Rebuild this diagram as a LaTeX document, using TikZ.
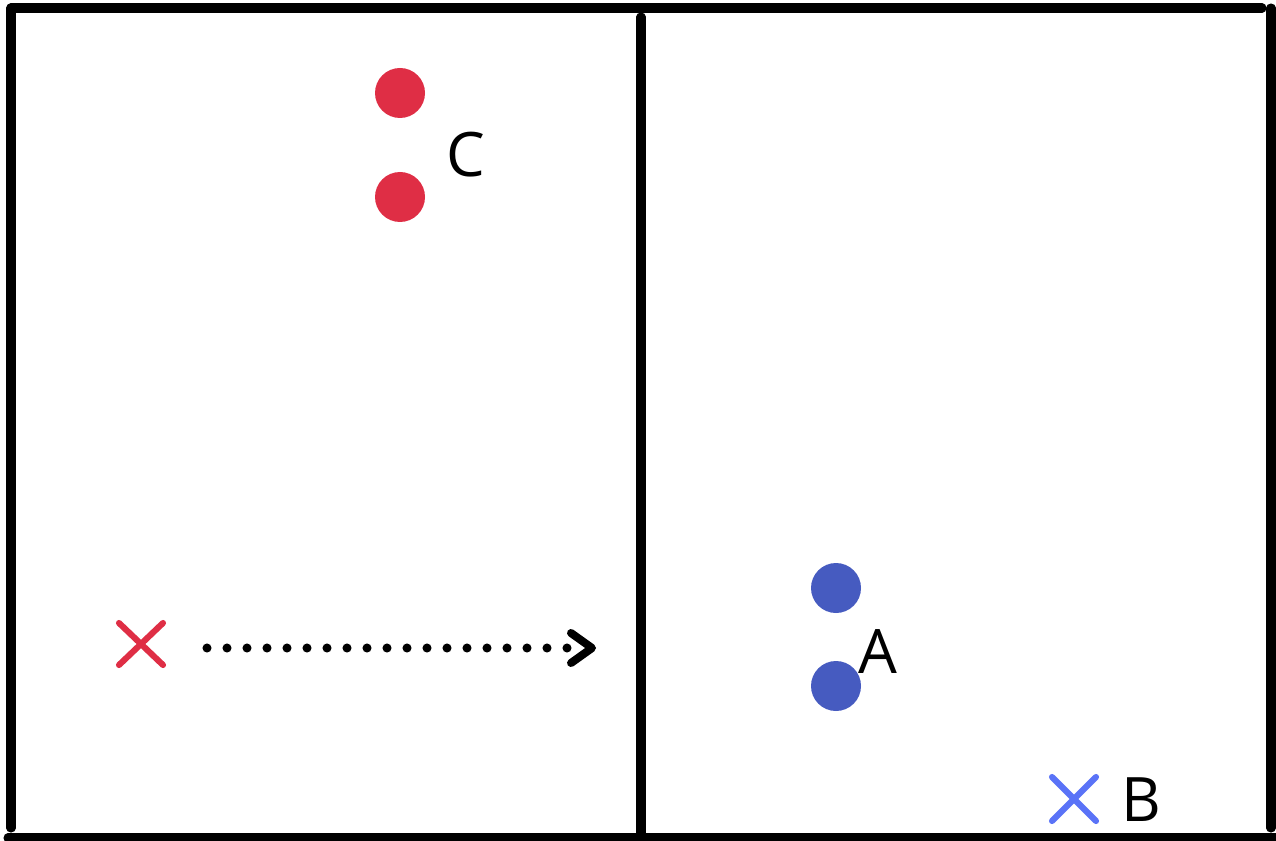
\documentclass[tikz,border=0pt]{standalone}
\usepackage{fontspec}
\setmainfont{Open Sans}
\usetikzlibrary{calc}
\definecolor{cred}{HTML}{DF2E45}
\definecolor{cblue}{HTML}{465BC0}
\definecolor{cbluex}{HTML}{5A73F7}
\begin{document}
\begin{tikzpicture}[x=0.75pt,y=-0.75pt,
  wall/.style={line width=6.8pt,line cap=round,line join=round},
  reddot/.style={circle,fill=cred,minimum size=37.5pt,inner sep=0pt},
  bluedot/.style={circle,fill=cblue,minimum size=37.5pt,inner sep=0pt},
  crossmark/.style={line width=4.6pt,line cap=round},
  lbl/.style={anchor=base,inner sep=0pt,font=\fontsize{46}{46}\selectfont},
  dotline/.style={line width=6.8pt,line cap=round,dash pattern=on 0pt off 15pt},
  chevron/.style={line width=6pt,line cap=round,line join=round}]
\useasboundingbox (0,0) rectangle (1276,841);
% frame
\coordinate (tl) at (11,8);
\coordinate (tr) at (1262,8);
\draw[wall] (tl) -- (tr);
\draw[wall] (11,8) -- (11,828);
\draw[wall] (1271,8) -- (1271,828);
\draw[wall] (641,17) -- (641,838);
\draw[wall] (8,838) -- (1285,838);
% red dots and C
\node[reddot] (c1) at (400,93) {};
\node[reddot] (c2) at (400,197) {};
\node[lbl] (lc) at (466,177) {C};
% blue dots and A
\node[bluedot] (a1) at (836,588) {};
\node[bluedot] (a2) at (836,686) {};
\node[lbl] (la) at (878,673) {A};
% blue cross and B
\coordinate (bx) at (1074,799);
\draw[crossmark,cbluex] ($(bx)+(-22,-22)$) -- ($(bx)+(22,22)$);
\draw[crossmark,cbluex] ($(bx)+(-22,22)$) -- ($(bx)+(22,-22)$);
\node[lbl] (lb) at (1141,821) {B};
% red cross
\coordinate (rx) at (141,644);
\draw[crossmark,cred] ($(rx)+(-22,-21)$) -- ($(rx)+(22,21)$);
\draw[crossmark,cred] ($(rx)+(-22,21)$) -- ($(rx)+(22,-21)$);
% dotted arrow
\coordinate (arrs) at (207,648);
\coordinate (arre) at (568,648);
\coordinate (tip) at (592,648);
\draw[dotline] (arrs) -- (arre);
\draw[chevron] ($(tip)+(-21,-15)$) -- (tip) -- ($(tip)+(-21,15)$);
\end{tikzpicture}
\end{document}
